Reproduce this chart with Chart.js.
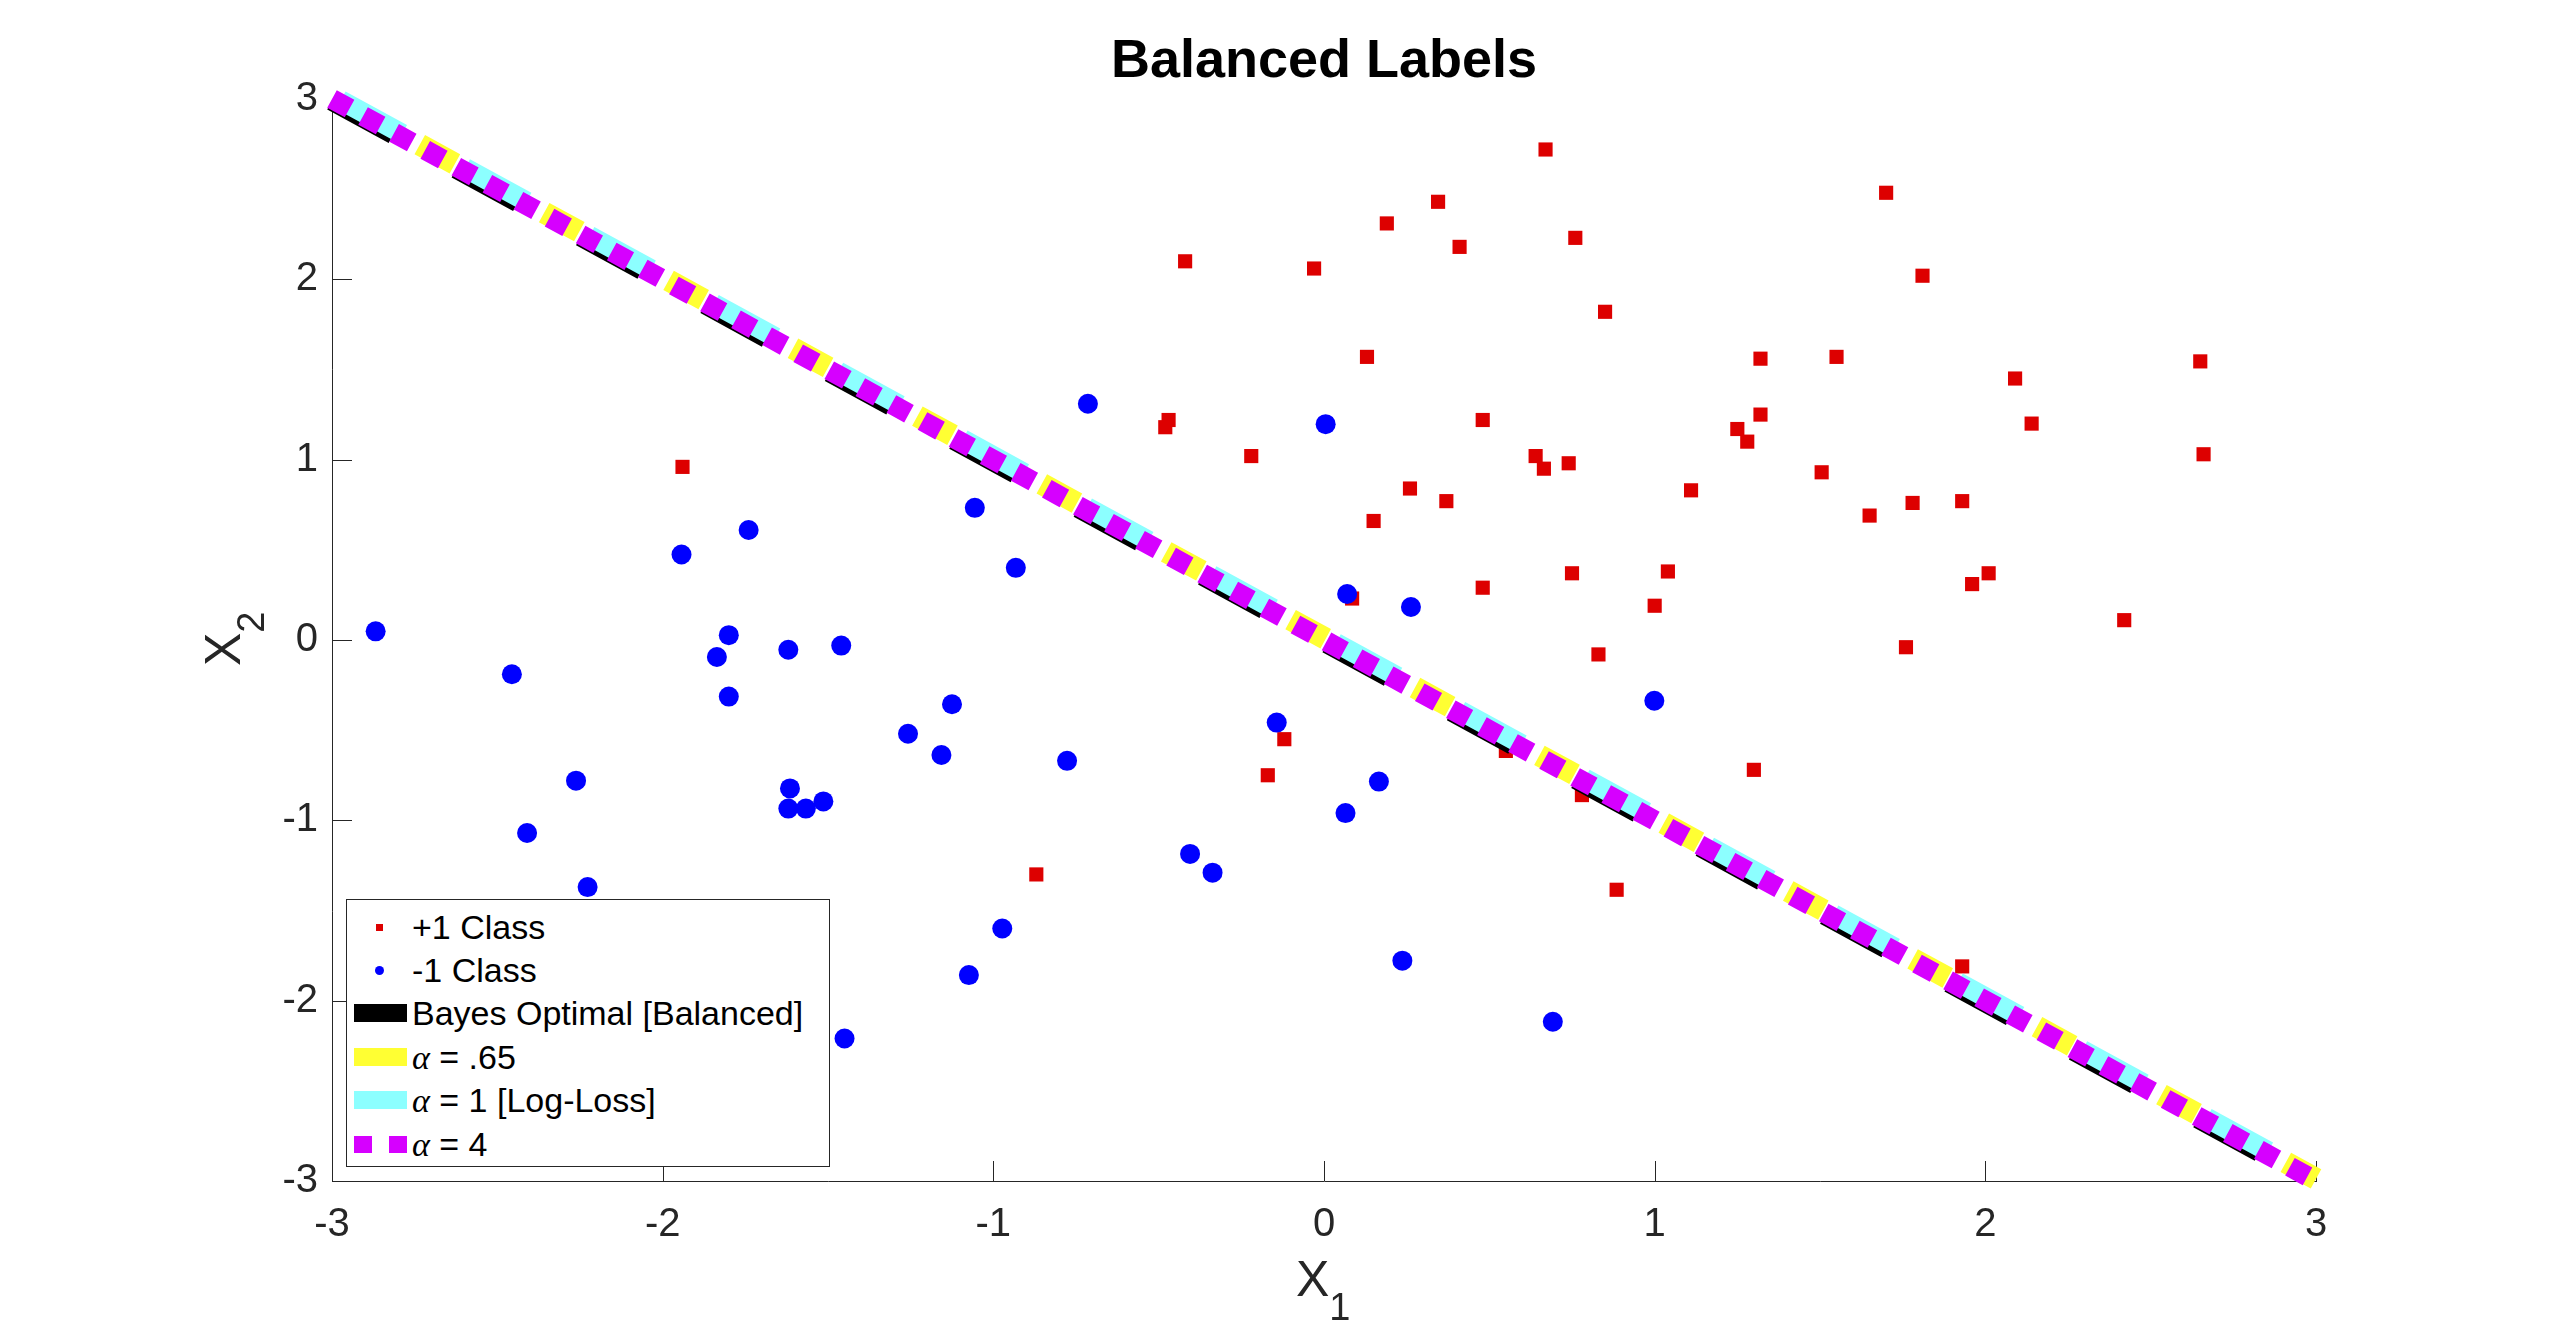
<!DOCTYPE html>
<html>
<head>
<meta charset="utf-8">
<script src="https://cdn.jsdelivr.net/npm/chart.js@4"></script>
<style>
  body { margin: 0; background: #fff; }
  #wrap { position: relative; width: 2560px; height: 1328px; font-family: "Liberation Sans", Arial, sans-serif; }
  #c { position: absolute; left: 0; top: 0; }
  .axlab { position: absolute; font-size: 50px; line-height: 50px; color: #262626; white-space: nowrap; }
  .axlab sub { font-size: 38px; vertical-align: -24px; }
  #ylab { transform-origin: 0 0; transform: rotate(-90deg); }
  #legend { position: absolute; left: 346px; top: 899px; width: 484px; height: 268px; box-sizing: border-box;
            border: 1px solid #262626; background: #fff; }
  #legend .row { position: absolute; left: 65px; height: 44px; line-height: 44px; font-size: 34px; color: #000; white-space: nowrap; }
  #legend .row i { font-family: "Liberation Serif", "DejaVu Serif", serif; }
  #legend .mk { position: absolute; }
</style>
</head>
<body>
<div id="wrap">
  <canvas id="c" width="2560" height="1328"></canvas>
  <div class="axlab" id="xlab" style="left:1296px; top:1254px;">X<sub>1</sub></div>
  <div class="axlab" id="ylab" style="left:198px; top:666px;">X<sub>2</sub></div>
  <div id="legend"></div>
</div>
<script>
// +1 class points (red squares)
const plusX = [0.67, 1.70, 0.345, 0.19, 0.76, 0.41, -0.03, 1.81, 0.85, 0.13, 1.32, 1.55, 2.65, 2.09,
  0.48, 1.32, 2.14, 1.25, 1.28, 2.66, 0.64, 0.665, 0.74, 1.505, 0.26, 1.11, 0.37, 1.78, 1.93, 0.15,
  1.65, 0.75, 1.04, 0.48, 2.01, 1.96, 0.085, 1.0, 2.42, 0.83, 1.76,
  -0.42, -0.47, -0.48, -0.22, -1.94, -0.12, -0.17, -0.87, 0.55, 1.30, 0.78, 0.885, 1.93];
const plusY = [2.72, 2.48, 2.43, 2.31, 2.23, 2.18, 2.06, 2.02, 1.82, 1.57, 1.56, 1.57, 1.545, 1.45,
  1.22, 1.25, 1.20, 1.17, 1.10, 1.03, 1.02, 0.95, 0.98, 0.93, 0.84, 0.83, 0.77, 0.76, 0.77, 0.66,
  0.69, 0.37, 0.38, 0.29, 0.37, 0.31, 0.23, 0.19, 0.11, -0.08, -0.04,
  2.10, 1.22, 1.18, 1.02, 0.96, -0.55, -0.75, -1.30, -0.615, -0.72, -0.86, -1.385, -1.81];

// -1 class points (blue dots)
const minusX = [-0.714, 0.005, -1.056, -1.74, -1.943, -0.932, 0.07, 0.263, -2.868, -1.80, -1.46, -1.62,
  -1.836, -2.456, -1.80, -1.125, -1.258, -0.143, -1.157, -0.777, -2.262, -1.615, -1.62, -1.567, -1.514,
  0.065, -2.41, -0.405, -0.337, -2.227, -0.973, -1.074, -1.45, 0.999, 0.166, 0.237, 0.692];
const minusY = [1.31, 1.197, 0.733, 0.61, 0.474, 0.40, 0.255, 0.183, 0.048, 0.027, -0.031, -0.054,
  -0.094, -0.19, -0.314, -0.356, -0.52, -0.458, -0.638, -0.67, -0.78, -0.823, -0.935, -0.935, -0.895,
  -0.96, -1.07, -1.186, -1.29, -1.37, -1.60, -1.858, -2.21, -0.337, -0.785, -1.778, -2.117];

// decision boundaries (end points)
const lineX = [-3, 3];
const bayesY = [2.99, -3.01];
const alpha065Y = [3.012, -2.988];
const alpha1Y = [3.02, -2.98];
const alpha4Y = [3, -3];

const tickVals = [-3, -2, -1, 0, 1, 2, 3];

const pts = (xs, ys) => xs.map((x, i) => ({ x: x, y: ys[i] }));
const FONT = '"Liberation Sans", Arial, sans-serif';

function lineSet(label, ys, color, width, dash, off, order) {
  return {
    label: label, data: pts(lineX, ys), showLine: true, pointRadius: 0,
    borderColor: color, borderWidth: width, borderDash: dash, borderDashOffset: off,
    borderCapStyle: 'butt', fill: false, order: order, clip: 14
  };
}

// inward tick marks, matlab style
const inwardTicks = {
  id: 'inwardTicks',
  beforeDatasetsDraw(chart) {
    const { ctx, chartArea: a, scales: { x, y } } = chart;
    ctx.save();
    ctx.strokeStyle = '#262626';
    ctx.lineWidth = 1;
    ctx.beginPath();
    tickVals.forEach(v => {
      const px = Math.round(x.getPixelForValue(v)) + 0.5;
      ctx.moveTo(px, a.bottom); ctx.lineTo(px, a.bottom - 20);
      const py = Math.round(y.getPixelForValue(v)) + 0.5;
      ctx.moveTo(a.left, py); ctx.lineTo(a.left + 20, py);
    });
    ctx.stroke();
    ctx.restore();
  }
};

new Chart(document.getElementById('c').getContext('2d'), {
  type: 'scatter',
  data: {
    datasets: [
      { label: '+1 Class', data: pts(plusX, plusY), pointStyle: 'rect', pointRadius: 10,
        backgroundColor: '#dd0000', borderWidth: 0, order: 6 },
      { label: '-1 Class', data: pts(minusX, minusY), pointStyle: 'circle', pointRadius: 10,
        backgroundColor: '#0000ff', borderWidth: 0, order: 5 },
      lineSet('Bayes Optimal [Balanced]', bayesY, '#000000', 20, [70, 71.7], 0, 4),
      lineSet('alpha = .65', alpha065Y, '#ffff33', 22, [40, 101.7], -100, 3),
      lineSet('alpha = 1 [Log-Loss]', alpha1Y, '#8cffff', 20, [70, 71.7], -10, 2),
      lineSet('alpha = 4', alpha4Y, '#d600ff', 20, [20, 15.4], 0, 1)
    ]
  },
  options: {
    responsive: false,
    devicePixelRatio: 1,
    animation: false,
    events: [],
    layout: { padding: { left: 0, right: 244, top: 0, bottom: 0 } },
    plugins: {
      legend: { display: false },
      tooltip: { enabled: false },
      title: {
        display: true, text: 'Balanced Labels', fullSize: false, color: '#000',
        font: { family: FONT, size: 54, weight: 'bold' },
        padding: { top: 30, bottom: 4.2 }
      }
    },
    scales: {
      x: {
        type: 'linear', min: -3, max: 3,
        afterBuildTicks: s => { s.ticks = tickVals.map(v => ({ value: v })); },
        afterFit: s => { s.height = 147; },
        ticks: { color: '#262626', font: { family: FONT, size: 40 }, padding: 20, maxRotation: 0 },
        grid: { display: false, drawTicks: false },
        border: { display: true, color: '#262626', width: 1 }
      },
      y: {
        type: 'linear', min: -3, max: 3,
        afterBuildTicks: s => { s.ticks = tickVals.map(v => ({ value: v })); },
        afterFit: s => { s.width = 332; },
        ticks: { color: '#262626', font: { family: FONT, size: 40 }, padding: 14 },
        grid: { display: false, drawTicks: false },
        border: { display: true, color: '#262626', width: 1 }
      }
    }
  },
  plugins: [inwardTicks]
});

// legend box (html so the text stays text)
const legendRows = [
  { html: '+1 Class', mk: '<div class="mk" style="left:-36px;top:18.5px;width:7px;height:7px;background:#dd0000"></div>' },
  { html: '-1 Class', mk: '<div class="mk" style="left:-37px;top:17.5px;width:9px;height:9px;border-radius:50%;background:#0000ff"></div>' },
  { html: 'Bayes Optimal [Balanced]', mk: '<div class="mk" style="left:-58.5px;top:13px;width:53.5px;height:18px;background:#000"></div>' },
  { html: '<i>&alpha;</i> = .65', mk: '<div class="mk" style="left:-58.5px;top:13px;width:53.5px;height:18px;background:#ffff33"></div>' },
  { html: '<i>&alpha;</i> = 1 [Log-Loss]', mk: '<div class="mk" style="left:-58.5px;top:13px;width:53.5px;height:18px;background:#8cffff"></div>' },
  { html: '<i>&alpha;</i> = 4', mk: '<div class="mk" style="left:-58.5px;top:13.5px;width:18.7px;height:17px;background:#d600ff"></div>' +
      '<div class="mk" style="left:-23px;top:13.5px;width:18px;height:17px;background:#d600ff"></div>' }
];
const rowCenters = [27, 70, 113, 157, 200, 244];
document.getElementById('legend').innerHTML = legendRows.map((r, i) =>
  '<div class="row" style="top:' + (rowCenters[i] - 22) + 'px">' + r.mk + r.html + '</div>').join('');
</script>
</body>
</html>
